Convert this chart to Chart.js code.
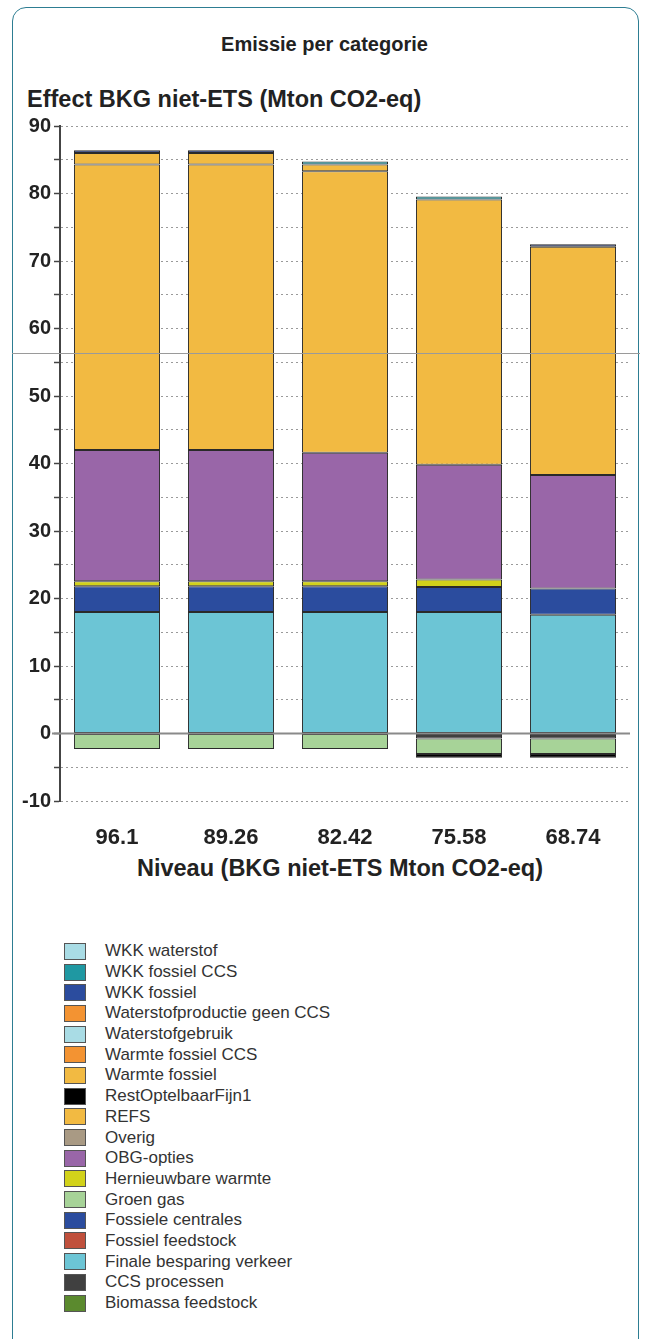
<!DOCTYPE html>
<html>
<head>
<meta charset="utf-8">
<script src="https://cdn.jsdelivr.net/npm/chart.js@4.4.1/dist/chart.umd.min.js"></script>
<style>
  html, body { margin: 0; padding: 0; background: #fff; }
  body { width: 649px; height: 1339px; position: relative; overflow: hidden; font-family: "Liberation Sans", Arial, sans-serif; }
  #card { position: absolute; left: 12px; top: 7px; width: 627px; height: 1360px; border: 1.5px solid #2d7d92; border-radius: 14px; box-sizing: border-box; }
  #artifact { position: absolute; left: 12px; top: 353px; width: 628px; height: 1px; background: #9a9a9a; z-index: 5; }
  #wrap { position: absolute; left: 0; top: 0; width: 649px; height: 850px; }
  .txt { position: absolute; font-weight: bold; color: #222; white-space: nowrap; line-height: 1.15; }
  #title { left: 0; width: 649px; text-align: center; top: 33px; font-size: 20px; }
  #ytitle { left: 27px; top: 86px; font-size: 23.5px; }
  #xtitle { left: 0; width: 680px; text-align: center; top: 855px; font-size: 23.5px; }
  #legend { position: absolute; left: 64px; top: 941px; }
  .li { height: 20.7px; display: flex; align-items: center; font-size: 17px; color: #333; }
  .sw { width: 22px; height: 17px; border: 1px solid #555; box-sizing: border-box; margin-right: 19px; }
</style>
</head>
<body>
<div id="card"></div>
<div class="txt" id="title">Emissie per categorie</div>
<div class="txt" id="ytitle">Effect BKG niet-ETS (Mton CO2-eq)</div>
<div id="wrap"><canvas id="c" width="649" height="850"></canvas></div>
<div class="txt" id="xtitle">Niveau (BKG niet-ETS Mton CO2-eq)</div>
<div id="legend"></div>
<div id="artifact"></div>
<script>
// Categories (x axis tick labels)
const categories = ['96.1', '89.26', '82.42', '75.58', '68.74'];

// Series names in stacking order (bottom to top)
const seriesNames = [
  'Biomassa feedstock', 'CCS processen', 'Finale besparing verkeer', 'Fossiel feedstock',
  'Fossiele centrales', 'Groen gas', 'Hernieuwbare warmte', 'OBG-opties', 'Overig', 'REFS',
  'RestOptelbaarFijn1', 'Warmte fossiel', 'Warmte fossiel CCS', 'Waterstofgebruik',
  'Waterstofproductie geen CCS', 'WKK fossiel', 'WKK fossiel CCS', 'WKK waterstof'
];

// Series values (Mton CO2-eq)
const biomassaFeedstock      = [0, 0, 0, 0, 0];
const ccsProcessen           = [0, 0, 0, -0.75, -0.75];
const finaleBesparingVerkeer = [18.0, 18.0, 18.0, 18.0, 17.6];
const fossielFeedstock       = [0, 0, 0, 0, 0];
const fossieleCentrales      = [3.8, 3.8, 3.8, 3.7, 3.9];
const groenGas               = [-2.3, -2.3, -2.3, -2.3, -2.3];
const hernieuwbareWarmte     = [0.75, 0.75, 0.75, 1.1, 0];
const obgOpties              = [19.45, 19.45, 19.05, 17.0, 16.8];
const overig                 = [0, 0, 0, 0, 0];
const refs                   = [42.3, 42.3, 41.7, 39.3, 33.8];
const restOptelbaarFijn1     = [0, 0, 0, -0.55, -0.55];
const warmteFossiel          = [1.7, 1.7, 1.0, 0, 0];
const warmteFossielCCS       = [0, 0, 0, 0, 0];
const waterstofgebruik       = [0, 0, 0, 0, 0];
const waterstofproductie     = [0, 0, 0, 0, 0];
const wkkFossiel             = [0.4, 0.4, 0, 0, 0.4];
const wkkFossielCCS          = [0, 0, 0.45, 0.45, 0];
const wkkWaterstof           = [0, 0, 0, 0, 0];

// Y tick values (labels shown at multiples of 10)
const yTickMin = -10, yTickMax = 90, yTickStep = 5;

const seriesValues = [
  biomassaFeedstock, ccsProcessen, finaleBesparingVerkeer, fossielFeedstock, fossieleCentrales,
  groenGas, hernieuwbareWarmte, obgOpties, overig, refs, restOptelbaarFijn1, warmteFossiel,
  warmteFossielCCS, waterstofgebruik, waterstofproductie, wkkFossiel, wkkFossielCCS, wkkWaterstof
];
const seriesColors = [
  '#5b8a2e', '#404040', '#6cc5d5', '#c0503c', '#2b4c9e', '#a7d398', '#d2d21a', '#9966a8',
  '#a99a84', '#f2ba42', '#000000', '#f2ba42', '#f39332', '#a9dce5', '#f39332', '#22336e',
  '#1f98a2', '#a9dce5'
];
const legendColors = seriesColors.map((c, i) => seriesNames[i] === 'WKK fossiel' ? '#2b4c9e' : c);

const datasets = seriesNames.map((name, i) => ({
  label: name,
  data: seriesValues[i].map(v => (v === 0 ? null : v)),
  backgroundColor: seriesColors[i],
  borderColor: '#2a2a2a',
  borderWidth: 1,
  borderSkipped: false,
  categoryPercentage: 1.0,
  barPercentage: 0.755,
  stack: 's'
}));

const zeroLine = {
  id: 'zeroLine',
  afterDatasetsDraw(chart) {
    const y = chart.scales.y.getPixelForValue(0);
    const ctx = chart.ctx;
    ctx.save();
    ctx.strokeStyle = '#8a8a8a';
    ctx.lineWidth = 2;
    ctx.beginPath();
    ctx.moveTo(chart.chartArea.left - 8, y);
    ctx.lineTo(chart.chartArea.right, y);
    ctx.stroke();
    ctx.restore();
  }
};

const fontY = { family: '"Liberation Sans", Arial, sans-serif', size: 20, weight: 'bold' };
const fontX = { family: '"Liberation Sans", Arial, sans-serif', size: 22, weight: 'bold' };

new Chart(document.getElementById('c'), {
  type: 'bar',
  data: { labels: categories, datasets },
  options: {
    responsive: false,
    animation: false,
    layout: { padding: { left: 0, right: 19, top: 126, bottom: 0 } },
    plugins: { legend: { display: false }, tooltip: { enabled: false }, title: { display: false } },
    scales: {
      x: {
        stacked: true,
        grid: { display: false },
        border: { display: false },
        ticks: { font: fontX, color: '#222', padding: 16, maxRotation: 0 },
        afterFit(s) { s.height = 49; }
      },
      y: {
        stacked: true,
        min: yTickMin, max: yTickMax,
        ticks: {
          stepSize: yTickStep, font: fontY, color: '#222', padding: 3,
          callback: v => (v % 10 === 0 ? String(v) : '')
        },
        grid: { color: '#9a9a9a', lineWidth: 1, tickLength: 6, tickColor: '#444', tickWidth: 1.5, tickBorderDash: [] },
        border: { display: true, color: '#444', width: 2, dash: [2, 3] },
        afterFit(s) { s.width = 60; }
      }
    }
  },
  plugins: [zeroLine]
});

// Legend (reverse of stacking order)
const leg = document.getElementById('legend');
for (let i = seriesNames.length - 1; i >= 0; i--) {
  const row = document.createElement('div');
  row.className = 'li';
  const sw = document.createElement('div');
  sw.className = 'sw';
  sw.style.background = legendColors[i];
  const t = document.createElement('span');
  t.textContent = seriesNames[i];
  row.appendChild(sw); row.appendChild(t);
  leg.appendChild(row);
}
</script>
</body>
</html>
